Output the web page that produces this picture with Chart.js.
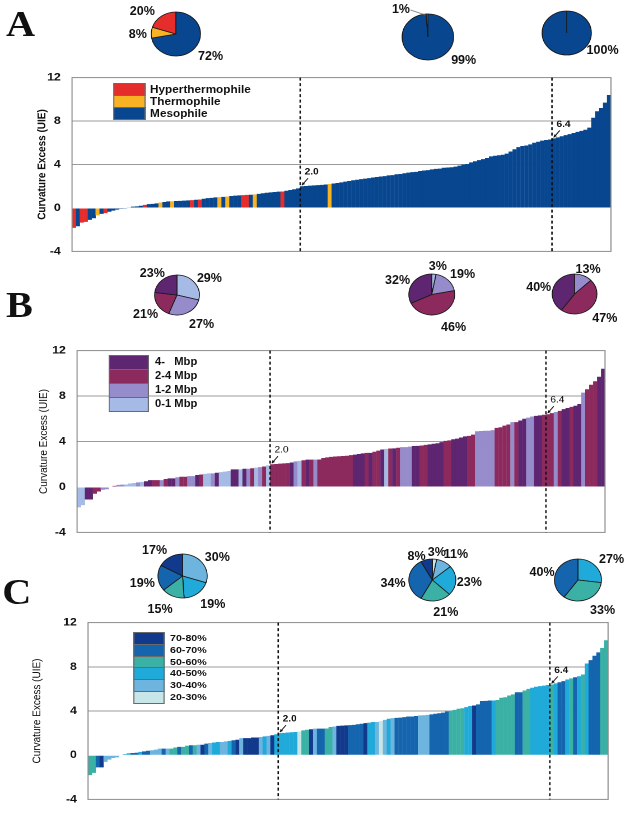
<!DOCTYPE html>
<html><head><meta charset="utf-8">
<script src="https://cdn.jsdelivr.net/npm/chart.js@4.4.1/dist/chart.umd.min.js"></script>
<style>
html,body{margin:0;padding:0;background:#fff;overflow:hidden;width:631px;height:816px;}
#fig{position:absolute;left:0;top:0;width:564px;height:816px;transform:scaleX(1.12);transform-origin:0 0;font-family:"Liberation Sans",Arial,sans-serif;color:#111;}
#fig canvas{position:absolute;}
.lbl{position:absolute;font-weight:bold;font-size:13px;transform:translate(-50%,-50%) scaleX(0.86);white-space:nowrap;line-height:1;}
.letter{position:absolute;font-family:"Liberation Serif","Times New Roman",serif;font-weight:bold;font-size:36px;line-height:36px;}
.lg-box{position:absolute;box-sizing:border-box;border:1px solid #6a6a6a;}
.lg-txt{position:absolute;font-weight:bold;white-space:pre;transform:translateY(-50%);line-height:1;}
</style></head><body><div id="fig"></div>
<script>
// ---------------- data ----------------
const yTicks = [-4, 0, 4, 8, 12];
const markLabels = ['2.0', '6.4'];

// Panel A: sorted curvature excess, coloured by growth temperature
const valuesA = [
  -1.83, -1.68, -1.35, -1.28, -1.1, -0.95, -0.68, -0.55, -0.48, -0.35,
  -0.25, -0.15, -0.08, -0.03, 0.05, 0.12, 0.15, 0.2, 0.28, 0.35,
  0.38, 0.42, 0.5, 0.55, 0.6, 0.62, 0.64, 0.65, 0.67, 0.7,
  0.72, 0.75, 0.78, 0.85, 0.9, 0.93, 0.97, 1.0, 1.02, 1.05,
  1.1, 1.13, 1.16, 1.18, 1.2, 1.22, 1.25, 1.3, 1.35, 1.4,
  1.43, 1.47, 1.5, 1.52, 1.58, 1.65, 1.72, 1.8,
  2.0, 2.02, 2.05, 2.08, 2.1, 2.13, 2.16, 2.2, 2.25, 2.3,
  2.36, 2.42, 2.48, 2.55, 2.6, 2.65, 2.7, 2.75, 2.8, 2.85,
  2.9, 2.93, 3.0, 3.02, 3.1, 3.12, 3.2, 3.25, 3.3, 3.32,
  3.4, 3.45, 3.48, 3.55, 3.6, 3.62, 3.7, 3.72, 3.75, 3.8,
  3.9, 4.0, 4.05, 4.2, 4.3, 4.4, 4.5, 4.6, 4.75, 4.8,
  4.85, 4.9, 5.0, 5.2, 5.4, 5.6, 5.7, 5.75, 5.85, 6.0,
  6.1, 6.2, 6.25, 6.3,
  6.4, 6.5, 6.6, 6.7, 6.8, 6.9, 7.0, 7.1, 7.2, 7.4, 8.3, 8.9, 9.2, 9.7, 10.4
];
const classA = ('HMHHMMTMH' + 'MMMMMMMMM' + 'H' + 'MMM' + 'T' + 'MM' + 'T' + 'MMMM' + 'H' + 'M' + 'H' +
  'MMMM' + 'T' + 'M' + 'T' + 'MMM' + 'HH' + 'M' + 'T' + 'MMMMMM' + 'H' + 'MMMM' +
  'MMMMMMM' + 'T' + 'M'.repeat(56) + 'M'.repeat(15)).split('');
const splitA = [58, 122];

// Panels B and C: same sorted genomes
const valuesBC = [
  -1.8, -1.6, -1.1, -1.1, -0.6, -0.4, -0.25, -0.2, -0.05, 0.1,
  0.18, 0.2, 0.22, 0.3, 0.35, 0.4, 0.45, 0.5, 0.6, 0.6,
  0.6, 0.6, 0.7, 0.75, 0.75, 0.85, 0.9, 0.9, 0.95, 0.95,
  1.05, 1.1, 1.15, 1.2, 1.2, 1.25, 1.3, 1.35, 1.4, 1.55,
  1.55, 1.55, 1.6, 1.6, 1.65, 1.7, 1.75, 1.8, 1.9,
  2.0, 2.02, 2.05, 2.08, 2.1, 2.15, 2.25, 2.3, 2.35, 2.4,
  2.4, 2.4, 2.42, 2.55, 2.6, 2.65, 2.68, 2.7, 2.72, 2.75,
  2.8, 2.85, 2.9, 2.95, 3.0, 3.0, 3.1, 3.2, 3.3, 3.35,
  3.38, 3.4, 3.45, 3.5, 3.5, 3.55, 3.6, 3.62, 3.65, 3.7,
  3.75, 3.8, 3.85, 3.95, 4.05, 4.1, 4.2, 4.25, 4.35, 4.45,
  4.5, 4.6, 4.9, 4.92, 4.95, 4.95, 5.0, 5.2, 5.25, 5.4,
  5.5, 5.7, 5.7, 5.85, 6.0, 6.1, 6.2, 6.25, 6.3, 6.35,
  6.4, 6.5, 6.6, 6.7, 6.85, 6.95, 7.05, 7.15, 7.3, 8.3, 8.6, 9.0, 9.3, 9.7, 10.4
];
const classB = ('LLPPMMVVVM' + 'VVLLLVLPPM' + 'MVMPPVMMVV' + 'PMLLVPLLLP' + 'PLPVMLVML' +
  'MMMMMPVLMP' + 'MVMMMMMMMM' + 'MPPPMPMMPL' + 'MPMVVVPPMM' + 'PPPPMMPPPP' + 'MMVVVVVMMM' + 'MVMPPVVPPM' +
  'MMVMPPMPPVMMMPP').split('');
const classC = ('TTBNSSSSCC' + 'CBBCBBSSSB' + 'STTBTTBTSN' + 'BSCCSSCBNS' + 'NNNNSCSNC' +
  'CCCCCWTTNS' + 'BBTTSNNNBB' + 'BBNCCSWSCS' + 'BBBBBBSSSB' + 'BBBBTTTTCC' + 'NBBBBCTTTT' + 'TBBTTCCCCC' +
  'TCBBCTBCTCBBBTT').split('');
const splitBC = [49, 119];

// legends
const legendA = ['Hyperthermophile', 'Thermophile', 'Mesophile'];
const legendAKeys = ['H', 'T', 'M'];
const colorsA = {H: '#E52E2B', T: '#F8B324', M: '#08478F'};
const legendB = ['4-   Mbp', '2-4 Mbp', '1-2 Mbp', '0-1 Mbp'];
const legendBKeys = ['P', 'M', 'V', 'L'];
const colorsB = {P: '#5E2570', M: '#8C2A5E', V: '#978CCB', L: '#A5BAE4'};
const legendC = ['70-80%', '60-70%', '50-60%', '40-50%', '30-40%', '20-30%'];
const legendCKeys = ['N', 'B', 'T', 'C', 'S', 'W'];
const colorsC = {N: '#123A8C', B: '#1464AE', T: '#3BB1A5', C: '#1FAADA', S: '#6DB5DF', W: '#C8E6E7'};

// pies (percent, clockwise from 12 o'clock)
const pieKeysA = ['M', 'T', 'H'];
const piesA = [[72, 8, 20], [99, 1, 0], [100, 0, 0]];
const pieKeysB = ['L', 'V', 'M', 'P'];
const piesB = [[29, 27, 21, 23], [3, 19, 46, 32], [0, 13, 47, 40]];
const pieKeysC = ['W', 'S', 'C', 'T', 'B', 'N'];
const piesC = [[0, 30, 19, 15, 19, 17], [3, 11, 23, 21, 34, 8], [0, 0, 27, 33, 40, 0]];

// ---------------- layout ----------------
const W = 564;
const fig = document.getElementById('fig');
const FONT = '"Liberation Sans", Arial, sans-serif';

function marks(split, values, labelFont) {
  return {
    id: 'marks',
    afterDatasetsDraw(chart) {
      const {ctx, chartArea: a, scales: {x, y}} = chart;
      ctx.save();
      ctx.strokeStyle = '#8c8c8c';
      ctx.lineWidth = 1;
      ctx.strokeRect(a.left, a.top, a.right - a.left, a.bottom - a.top);
      split.forEach((k, j) => {
        const xp = (x.getPixelForValue(k - 1) + x.getPixelForValue(k)) / 2;
        ctx.strokeStyle = '#111';
        ctx.lineWidth = 1.3;
        ctx.setLineDash([3, 2.5]);
        ctx.beginPath(); ctx.moveTo(xp, a.top); ctx.lineTo(xp, a.bottom); ctx.stroke();
        ctx.setLineDash([]);
        const yt = y.getPixelForValue(values[k]);
        const x0 = xp + 7, y0 = yt - 8, x1 = xp + 1.5, y1 = yt - 1;
        ctx.lineWidth = 0.9;
        ctx.beginPath(); ctx.moveTo(x0, y0); ctx.lineTo(x1, y1); ctx.stroke();
        const ang = Math.atan2(y1 - y0, x1 - x0);
        ctx.beginPath(); ctx.moveTo(x1, y1);
        ctx.lineTo(x1 - 3.2 * Math.cos(ang - 0.5), y1 - 3.2 * Math.sin(ang - 0.5));
        ctx.lineTo(x1 - 3.2 * Math.cos(ang + 0.5), y1 - 3.2 * Math.sin(ang + 0.5));
        ctx.closePath(); ctx.fillStyle = '#111'; ctx.fill();
        ctx.font = labelFont; ctx.textAlign = 'left'; ctx.textBaseline = 'middle';
        ctx.fillText(markLabels[j], xp + 4, yt - 14);
      });
      ctx.restore();
    }
  };
}

function barChart(p) {
  const cv = document.createElement('canvas');
  cv.width = W; cv.height = p.h;
  cv.style.left = '0px'; cv.style.top = p.top + 'px';
  cv.style.width = W + 'px'; cv.style.height = p.h + 'px';
  fig.appendChild(cv);
  new Chart(cv, {
    type: 'bar',
    data: {
      labels: p.values.map((v, i) => i),
      datasets: [{
        data: p.values,
        backgroundColor: p.cls.map(c => p.colors[c]),
        borderWidth: 0,
        barPercentage: 1.06,
        categoryPercentage: 1
      }]
    },
    options: {
      responsive: false, animation: false, devicePixelRatio: 2, events: [],
      layout: {padding: {left: 0, right: W - p.right, top: p.padT, bottom: p.padB}},
      plugins: {legend: {display: false}, tooltip: {enabled: false}},
      scales: {
        x: {display: false},
        y: {
          min: yTicks[0], max: yTicks[yTicks.length - 1],
          ticks: {stepSize: 4, color: '#111', padding: 10, font: {family: FONT, size: 11, weight: 'bold'}},
          grid: {drawTicks: false, lineWidth: 1,
                 color: c => (c.tick && (c.tick.value === 4 || c.tick.value === 8)) ? '#9b9b9b' : 'rgba(0,0,0,0)'},
          border: {display: false},
          title: {display: true, text: 'Curvature Excess (UIE)', color: '#111',
                  font: {family: FONT, size: 10, weight: p.titleBold ? 'bold' : 'normal'},
                  padding: {top: p.titlePad, bottom: 0}},
          afterFit: s => { s.width = p.left; }
        }
      }
    },
    plugins: [marks(p.split, p.values, p.markFont)]
  });
}

function legend(names, keys, colors, boxLeft, boxW, top, boxH, txtLeft, fs) {
  names.forEach((n, i) => {
    const b = document.createElement('div');
    b.className = 'lg-box';
    Object.assign(b.style, {left: boxLeft + 'px', top: (top + i * boxH) + 'px', width: boxW + 'px',
      height: (boxH + 1) + 'px', background: colors[keys[i]]});
    fig.appendChild(b);
    const t = document.createElement('div');
    t.className = 'lg-txt';
    t.textContent = n;
    Object.assign(t.style, {left: txtLeft + 'px', top: (top + (i + 0.5) * boxH) + 'px', fontSize: fs + 'px'});
    fig.appendChild(t);
  });
}

function pie(data, keys, colors, cx, cy, r, labelPos) {
  const idx = data.map((v, i) => i).filter(i => data[i] > 0);
  const size = Math.ceil(2 * r + 8);
  const cv = document.createElement('canvas');
  cv.width = size; cv.height = size;
  Object.assign(cv.style, {left: (cx - size / 2) + 'px', top: (cy - size / 2) + 'px', width: size + 'px', height: size + 'px'});
  fig.appendChild(cv);
  new Chart(cv, {
    type: 'pie',
    data: {labels: idx.map(i => keys[i]),
      datasets: [{data: idx.map(i => data[i]), backgroundColor: idx.map(i => colors[keys[i]]),
        borderColor: '#1a1a1a', borderWidth: 0.8}]},
    options: {responsive: false, animation: false, devicePixelRatio: 2, events: [], radius: r,
      layout: {padding: 0}, plugins: {legend: {display: false}, tooltip: {enabled: false}}}
  });
  idx.forEach((i, j) => {
    const d = document.createElement('div');
    d.className = 'lbl';
    d.textContent = data[i] + '%';
    d.style.left = labelPos[j][0] + 'px';
    d.style.top = labelPos[j][1] + 'px';
    fig.appendChild(d);
  });
}

function letter(ch, left, top) {
  const d = document.createElement('div');
  d.className = 'letter'; d.textContent = ch;
  d.style.left = left + 'px'; d.style.top = top + 'px';
  fig.appendChild(d);
}

// ---- Panel A ----
letter('A', 5.4, 5.7);
barChart({values: valuesA, cls: classA, colors: colorsA, split: splitA, top: 61, h: 207, padT: 15, padB: 15,
  left: 64.3, right: 545.5, titleBold: true, titlePad: 31.5, markFont: 'bold 9px ' + FONT});
legend(legendA, legendAKeys, colorsA, 101, 28.5, 83, 12, 134, 10.5);
pie(piesA[0], pieKeysA, colorsA, 157, 34, 22, [[188, 55], [122.8, 32.5], [127.2, 10]]);
pie(piesA[1], pieKeysA, colorsA, 381.7, 37, 23, [[414.3, 59], [358, 7.5]]);
pie(piesA[2], pieKeysA, colorsA, 505.8, 33, 22, [[537.5, 49]]);

// ---- Panel B ----
letter('B', 5.4, 286.7);
barChart({values: valuesBC, cls: classB, colors: colorsB, split: splitBC, top: 334, h: 215, padT: 15, padB: 15,
  left: 68.8, right: 540.2, titleBold: false, titlePad: 33.3, markFont: '9px ' + FONT});
legend(legendB, legendBKeys, colorsB, 97.3, 35.7, 355, 14, 138.4, 10);
pie(piesB[0], pieKeysB, colorsB, 158, 295, 20, [[186.6, 276.5], [179.5, 322.5], [129.5, 312.5], [135.7, 272]]);
pie(piesB[1], pieKeysB, colorsB, 385.7, 294.5, 20.5, [[390.6, 265], [413.4, 272.5], [405, 326], [355.4, 279]]);
pie(piesB[2], pieKeysB, colorsB, 513.4, 293.5, 20, [[525, 267.5], [540.2, 317], [481.25, 286]]);

// ---- Panel C ----
letter('C', 2, 574);
barChart({values: valuesBC, cls: classC, colors: colorsC, split: splitBC, top: 606, h: 210, padT: 15, padB: 8,
  left: 78.6, right: 542.9, titleBold: false, titlePad: 27, markFont: 'bold 9px ' + FONT});
legend(legendC, legendCKeys, colorsC, 118.75, 28, 632, 11.83, 151.8, 9.5);
pie(piesC[0], pieKeysC, colorsC, 162.5, 576, 22, [[193.75, 555.5], [189.7, 602.5], [142.9, 607.5], [127.2, 581.5], [138.4, 549]]);
pie(piesC[1], pieKeysC, colorsC, 385.7, 579.5, 21, [[389.7, 551], [407.1, 552.5], [419.2, 580.5], [397.8, 610.5], [351.3, 581.5], [371.9, 555]]);
pie(piesC[2], pieKeysC, colorsC, 516, 579.5, 21, [[546, 557.5], [538, 608.5], [484.4, 570.5]]);

// leader line for the 1% slice in panel A
const svgNS = 'http://www.w3.org/2000/svg';
const svg = document.createElementNS(svgNS, 'svg');
svg.setAttribute('width', W); svg.setAttribute('height', 60);
svg.style.position = 'absolute'; svg.style.left = '0px'; svg.style.top = '0px';
const ln = document.createElementNS(svgNS, 'line');
ln.setAttribute('x1', 366.5); ln.setAttribute('y1', 10); ln.setAttribute('x2', 380); ln.setAttribute('y2', 15);
ln.setAttribute('stroke', '#777'); ln.setAttribute('stroke-width', 0.8);
svg.appendChild(ln);
fig.appendChild(svg);
</script></body></html>
